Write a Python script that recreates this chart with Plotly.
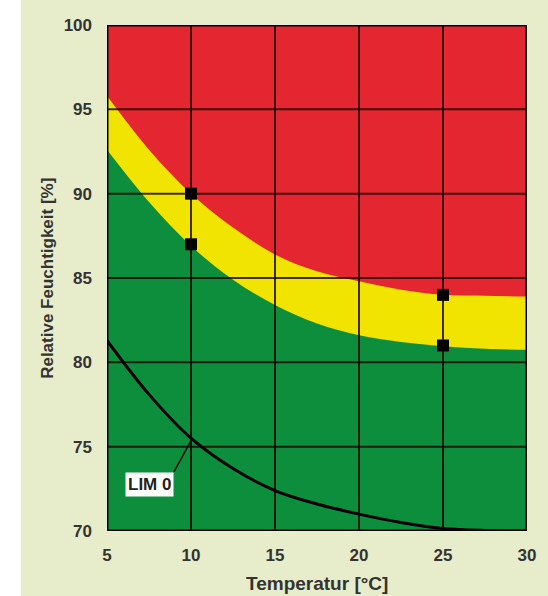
import plotly.graph_objects as go

# Data
temps = [5, 7.5, 10, 12.5, 15, 17.5, 20, 22.5, 25, 27.5, 30]
upper_limit = [95.8, 92.6, 90.0, 88.0, 86.4, 85.4, 84.8, 84.3, 84.0, 83.95, 83.9]
lower_limit = [92.6, 89.5, 86.9, 84.9, 83.4, 82.3, 81.6, 81.2, 80.95, 80.8, 80.75]
lim0 = [81.3, 78.1, 75.5, 73.7, 72.4, 71.6, 71.0, 70.5, 70.15, 70.03, 70.0]
marker_x = [10, 10, 25, 25]
marker_y = [90, 87, 84, 81]
x_ticks = [5, 10, 15, 20, 25, 30]
y_ticks = [70, 75, 80, 85, 90, 95, 100]

RED = "#E3262F"
YELLOW = "#F1E400"
GREEN = "#0C8E3D"
BG = "#E7ECCB"
GRID = "rgba(20,0,0,0.8)"
FONT = "Liberation Sans, Arial"

fig = go.Figure()
fig.add_trace(go.Scatter(x=temps, y=upper_limit, mode="lines", line=dict(width=0, shape="spline"),
                         fill="tozeroy", fillcolor=YELLOW, hoverinfo="skip", showlegend=False))
fig.add_trace(go.Scatter(x=temps, y=lower_limit, mode="lines", line=dict(width=0, shape="spline"),
                         fill="tozeroy", fillcolor=GREEN, hoverinfo="skip", showlegend=False))
fig.add_trace(go.Scatter(x=temps, y=lim0, mode="lines", line=dict(color="black", width=3, shape="spline"),
                         showlegend=False))
fig.add_trace(go.Scatter(x=marker_x, y=marker_y, mode="markers",
                         marker=dict(symbol="square", size=12, color="black"), showlegend=False))

shapes = []
for xv in x_ticks[1:-1]:
    shapes.append(dict(type="line", xref="x", yref="y", x0=xv, x1=xv, y0=y_ticks[0], y1=y_ticks[-1],
                       line=dict(color=GRID, width=2), layer="above"))
for yv in y_ticks[1:-1]:
    shapes.append(dict(type="line", xref="x", yref="y", x0=x_ticks[0], x1=x_ticks[-1], y0=yv, y1=yv,
                       line=dict(color=GRID, width=2), layer="above"))
shapes.append(dict(type="rect", xref="x", yref="y", x0=x_ticks[0], x1=x_ticks[-1], y0=y_ticks[0], y1=y_ticks[-1],
                   line=dict(color="black", width=3), layer="above"))
# white strip at left of image
shapes.append(dict(type="rect", xref="paper", yref="paper", x0=-0.26, x1=-0.2053, y0=-0.2, y1=1.1,
                   line=dict(width=0), fillcolor="white", layer="below"))
fig.update_layout(shapes=shapes)

fig.add_annotation(x=10, y=75.35, xref="x", yref="y", ax=-17, ay=31, axref="pixel", ayref="pixel",
                   text="<b>LIM 0</b>", showarrow=True, arrowhead=0, arrowwidth=1.5, arrowcolor="black",
                   bgcolor="white", font=dict(family=FONT, size=17, color="#222"),
                   borderpad=2, xanchor="right", yanchor="top")

# axis titles
fig.add_annotation(x=0.5, y=-0.1028, xref="paper", yref="paper", text="<b>Temperatur [°C]</b>",
                   showarrow=False, xanchor="center", yanchor="middle",
                   font=dict(family=FONT, size=19, color="#333"))
fig.add_annotation(x=-0.1432, y=0.5, xref="paper", yref="paper", text="<b>Relative Feuchtigkeit [%]</b>",
                   showarrow=False, xanchor="center", yanchor="middle", textangle=-90,
                   font=dict(family=FONT, size=17, color="#333"))

tickfont = dict(family=FONT, size=17, color="#333")
fig.update_xaxes(range=[5, 30], tickvals=x_ticks, ticktext=[f"<b>{v}</b>" for v in x_ticks],
                 showgrid=False, zeroline=False, tickfont=tickfont, ticks="", ticklabelstandoff=12)
fig.update_yaxes(range=[70, 100], tickvals=y_ticks, ticktext=[f"<b>{v}</b>" for v in y_ticks],
                 showgrid=False, zeroline=False, tickfont=tickfont, ticks="", ticklabelstandoff=14)
fig.update_layout(width=548, height=596, margin=dict(l=107, r=21, t=25, b=65, autoexpand=False),
                  plot_bgcolor=RED, paper_bgcolor=BG)
fig.write_html("out.html", config={"displayModeBar": False},
               post_script="document.body.style.margin='0';")
